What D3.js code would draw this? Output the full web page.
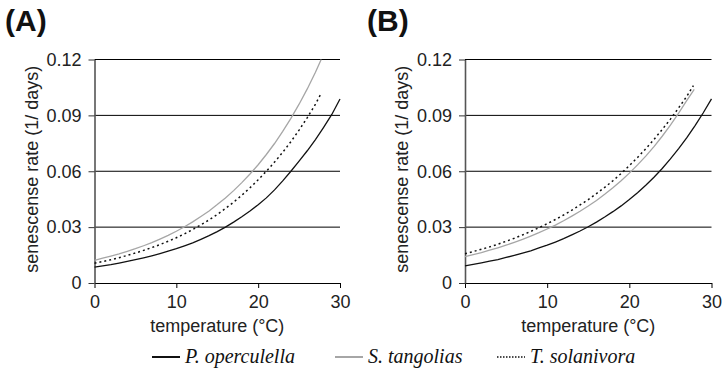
<!DOCTYPE html>
<html><head><meta charset="utf-8">
<script src="https://cdn.jsdelivr.net/npm/d3@7/dist/d3.min.js"></script>
<style>body{margin:0;background:#fff}</style>
</head><body>
<svg id="c" width="722" height="390"></svg>
<script>
// ---- data ----
const panelTitles = ["(A)", "(B)"];
const seriesNames = ["P. operculella", "S. tangolias", "T. solanivora"];
const xTicks = [0, 10, 20, 30];
const yTicks = [0, 0.03, 0.06, 0.09, 0.12];
const yTickLabels = ["0", "0.03", "0.06", "0.09", "0.12"];

const tempsFull = [0,1,2,3,4,5,6,7,8,9,10,11,12,13,14,15,16,17,18,19,20,21,22,23,24,25,26,27,28,29,30];

// Panel A
const tempsA_oper = tempsFull;
const valsA_oper = [0.0085,0.0092,0.0099,0.0107,0.0116,0.0125,0.0135,0.0146,0.0158,0.0171,0.0184,0.0199,0.0215,0.0234,0.0254,0.0276,0.0300,0.0327,0.0356,0.0387,0.0420,0.0457,0.0500,0.0548,0.0600,0.0654,0.0710,0.0770,0.0836,0.0905,0.0988];
const tempsA_tang = [0,1,2,3,4,5,6,7,8,9,10,11,12,13,14,15,16,17,18,19,20,21,22,23,24,25,26,27,27.7];
const valsA_tang = [0.0122,0.0133,0.0144,0.0156,0.0170,0.0184,0.0200,0.0217,0.0236,0.0256,0.0278,0.0302,0.0328,0.0357,0.0387,0.0421,0.0457,0.0496,0.0539,0.0585,0.0635,0.0690,0.0749,0.0814,0.0884,0.0960,0.1042,0.1132,0.1200];
const tempsA_sola = [0,1,2,3,4,5,6,7,8,9,10,11,12,13,14,15,16,17,18,19,20,21,22,23,24,25,26,27,27.6];
const valsA_sola = [0.0106,0.0115,0.0125,0.0136,0.0148,0.0161,0.0175,0.0190,0.0206,0.0224,0.0243,0.0264,0.0287,0.0312,0.0339,0.0368,0.0400,0.0434,0.0471,0.0511,0.0554,0.0600,0.0649,0.0702,0.0759,0.0821,0.0888,0.0960,0.1010];

// Panel B
const tempsB_oper = tempsFull;
const valsB_oper = [0.0092,0.0100,0.0108,0.0117,0.0126,0.0137,0.0148,0.0160,0.0173,0.0188,0.0203,0.0220,0.0238,0.0258,0.0279,0.0302,0.0327,0.0354,0.0383,0.0414,0.0448,0.0485,0.0525,0.0568,0.0615,0.0666,0.0721,0.0780,0.0845,0.0914,0.0989];
const tempsB_tang = [0,1,2,3,4,5,6,7,8,9,10,11,12,13,14,15,16,17,18,19,20,21,22,23,24,25,26,27,27.9];
const valsB_tang = [0.0142,0.0152,0.0163,0.0176,0.0189,0.0203,0.0218,0.0234,0.0252,0.0270,0.0290,0.0311,0.0334,0.0359,0.0385,0.0413,0.0443,0.0476,0.0511,0.0549,0.0590,0.0634,0.0681,0.0732,0.0788,0.0848,0.0912,0.0980,0.1040];
const tempsB_sola = [0,1,2,3,4,5,6,7,8,9,10,11,12,13,14,15,16,17,18,19,20,21,22,23,24,25,26,27,27.8];
const valsB_sola = [0.0157,0.0169,0.0181,0.0194,0.0208,0.0224,0.0240,0.0258,0.0277,0.0297,0.0318,0.0341,0.0365,0.0391,0.0419,0.0448,0.0480,0.0513,0.0549,0.0588,0.0630,0.0674,0.0721,0.0771,0.0824,0.0880,0.0940,0.1003,0.1060];

// ---- drawing ----
const svg = d3.select("#c");
const FONT = "Liberation Sans, Arial, sans-serif";
const styles = [
  {stroke: "#111", width: 1.3, dash: null},
  {stroke: "#a6a6a6", width: 1.3, dash: null},
  {stroke: "#111", width: 1.5, dash: "2,3"}
];

const panels = [
  {title: panelTitles[0], titleX: 5, left: 94.5, right: 340,
   series: [[tempsA_oper, valsA_oper], [tempsA_tang, valsA_tang], [tempsA_sola, valsA_sola]]},
  {title: panelTitles[1], titleX: 367, left: 465, right: 711.5,
   series: [[tempsB_oper, valsB_oper], [tempsB_tang, valsB_tang], [tempsB_sola, valsB_sola]]}
];
const plotTop = 59.5, plotBottom = 283;

panels.forEach(p => {
  const x = d3.scaleLinear().domain([0, 30]).range([p.left, p.right]);
  const y = d3.scaleLinear().domain([0, 0.12]).range([plotBottom, plotTop]);
  const g = svg.append("g");

  // title
  g.append("text").attr("x", p.titleX).attr("y", 31)
    .attr("font-family", FONT).attr("font-weight", "bold").attr("font-size", 30)
    .attr("fill", "#111").text(p.title);

  // gridlines
  g.selectAll(".grid").data(yTicks.filter(d => d > 0)).enter().append("line")
    .attr("x1", p.left).attr("x2", p.right)
    .attr("y1", d => y(d)).attr("y2", d => y(d))
    .attr("stroke", "#000").attr("stroke-width", 1);

  // x axis
  const xa = g.append("g").attr("transform", `translate(0,${plotBottom})`)
    .call(d3.axisBottom(x).tickValues(xTicks).tickSize(5).tickPadding(7).tickSizeOuter(0));
  xa.select(".domain").attr("stroke", "#000").attr("stroke-width", 1);
  xa.selectAll(".tick line").attr("stroke", "#000");
  xa.selectAll("text").attr("font-family", FONT).attr("font-size", 18).attr("fill", "#222");

  // y axis
  const ya = g.append("g").attr("transform", `translate(${p.left},0)`)
    .call(d3.axisLeft(y).tickValues(yTicks).tickFormat((d, i) => yTickLabels[i])
      .tickSize(6).tickPadding(7).tickSizeOuter(0));
  ya.select(".domain").attr("stroke", "#555").attr("stroke-width", 1.6);
  ya.selectAll(".tick line").attr("stroke", "#333");
  ya.selectAll("text").attr("font-family", FONT).attr("font-size", 18).attr("fill", "#222");

  // axis titles
  g.append("text").attr("x", (p.left + p.right) / 2).attr("y", 332)
    .attr("text-anchor", "middle").attr("font-family", FONT).attr("font-size", 18)
    .attr("fill", "#222").text("temperature (°C)");
  g.append("text")
    .attr("transform", `translate(${p.left - 63},${(plotTop + plotBottom) / 2 - 2}) rotate(-90)`)
    .attr("text-anchor", "middle").attr("dy", "0.35em")
    .attr("font-family", FONT).attr("font-size", 18).attr("fill", "#222")
    .text("senescense rate (1/ days)");

  // curves
  const line = d3.line().x(d => x(d[0])).y(d => y(d[1]));
  p.series.forEach((s, i) => {
    const pts = s[0].map((t, j) => [t, s[1][j]]);
    g.append("path").datum(pts).attr("d", line)
      .attr("fill", "none").attr("stroke", styles[i].stroke)
      .attr("stroke-width", styles[i].width)
      .attr("stroke-dasharray", styles[i].dash);
  });
});

// legend
const legendX = [152, 335, 497];
const lg = svg.append("g");
seriesNames.forEach((name, i) => {
  lg.append("line").attr("x1", legendX[i]).attr("x2", legendX[i] + 28)
    .attr("y1", 357).attr("y2", 357)
    .attr("stroke", styles[i].stroke)
    .attr("stroke-width", i === 2 ? 1.4 : 2)
    .attr("stroke-dasharray", i === 2 ? "1.5,1.5" : null);
  lg.append("text").attr("x", legendX[i] + 33).attr("y", 363)
    .attr("font-family", "Liberation Serif, Times New Roman, serif")
    .attr("font-style", "italic").attr("font-size", 20).attr("fill", "#111")
    .text(name);
});
</script>
</body></html>
